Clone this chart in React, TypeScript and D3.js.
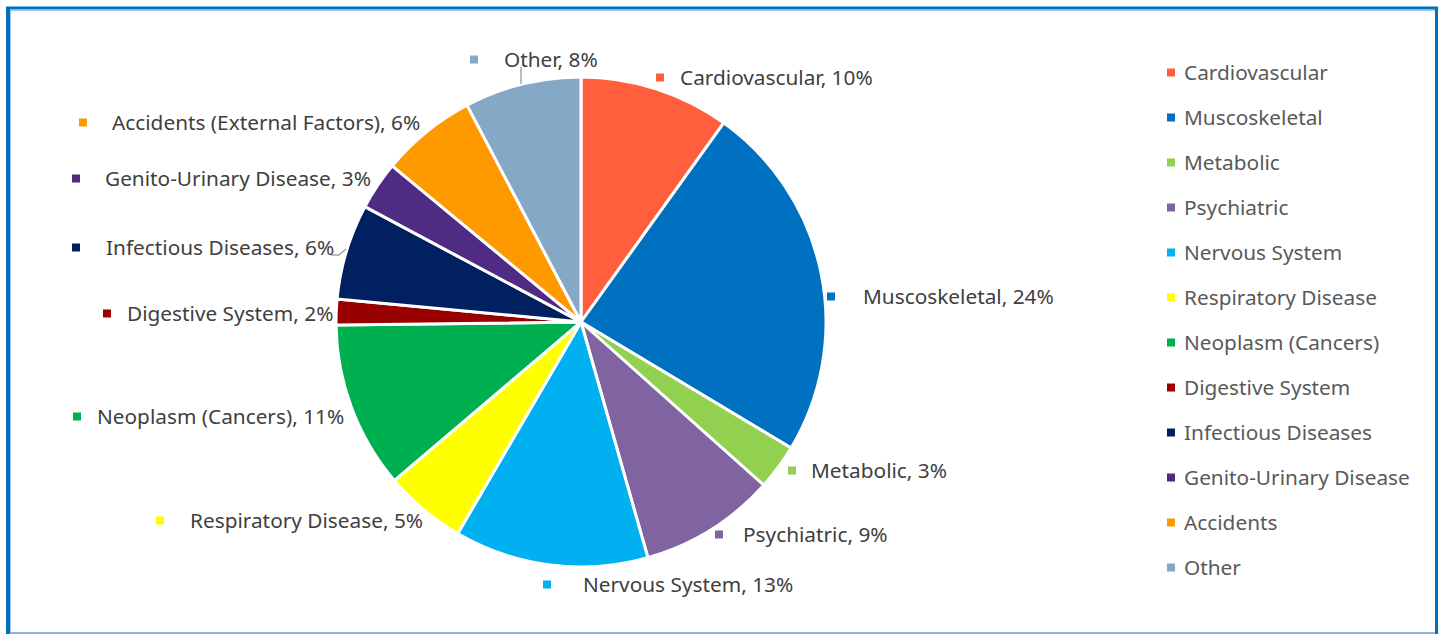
import React, { useEffect, useRef } from "react";
import * as d3 from "d3";

const categories = [
  "Cardiovascular",
  "Muscoskeletal",
  "Metabolic",
  "Psychiatric",
  "Nervous System",
  "Respiratory Disease",
  "Neoplasm (Cancers)",
  "Digestive System",
  "Infectious Diseases",
  "Genito-Urinary Disease",
  "Accidents (External Factors)",
  "Other",
];
const legendNames = [
  "Cardiovascular",
  "Muscoskeletal",
  "Metabolic",
  "Psychiatric",
  "Nervous System",
  "Respiratory Disease",
  "Neoplasm (Cancers)",
  "Digestive System",
  "Infectious Diseases",
  "Genito-Urinary Disease",
  "Accidents",
  "Other",
];
const shares = [9.9, 23.7, 3.0, 9.0, 12.8, 5.4, 11.0, 1.7, 6.3, 3.2, 6.3, 7.7];
const colors = [
  "#FF5F3C", "#0070C0", "#92D050", "#8064A2", "#00B0F0", "#FFFF00",
  "#00B050", "#990000", "#002060", "#4F2B84", "#FF9900", "#86A8C7",
];

// data label placement (marker left x, text left x, centre y)
const labelPos: [number, number, number][] = [
  [656, 680, 78],
  [827, 863, 297],
  [788, 811, 471],
  [715, 743, 535],
  [543, 583, 585],
  [156, 190, 521],
  [73, 97, 417],
  [103, 127, 314],
  [72, 106, 248],
  [72, 105, 179],
  [79, 112, 123],
  [470, 504, 60],
];

const W = 1444;
const H = 634;
const FONT = "'Noto Sans', 'Open Sans', sans-serif";
const FS = 20.8;

export default function App() {
  const ref = useRef<SVGSVGElement>(null);

  useEffect(() => {
    const svg = d3.select(ref.current);
    svg.selectAll("*").remove();

    const cx = 581, cy = 322, r = 245;

    // frame
    svg.append("rect").attr("x", 0).attr("y", 0).attr("width", W).attr("height", H).attr("fill", "#fff");
    svg.append("line").attr("x1", 8).attr("x2", 8).attr("y1", 7).attr("y2", 634)
      .style("stroke", "#0070C0").style("stroke-width", 4);
    svg.append("line").attr("x1", 6).attr("x2", 1438).attr("y1", 8).attr("y2", 8)
      .style("stroke", "#0070C0").style("stroke-width", 3);
    svg.append("line").attr("x1", 1436.5).attr("x2", 1436.5).attr("y1", 7).attr("y2", 634)
      .style("stroke", "#0070C0").style("stroke-width", 3);
    svg.append("line").attr("x1", 10).attr("x2", 1435).attr("y1", 633).attr("y2", 633)
      .style("stroke", "#5B9BD5").style("stroke-width", 1.5);
    svg.append("line").attr("x1", 10.5).attr("x2", 10.5).attr("y1", 10).attr("y2", 632)
      .style("stroke", "#9DC3E6").style("stroke-width", 1);
    svg.append("line").attr("x1", 10).attr("x2", 1435).attr("y1", 10.5).attr("y2", 10.5)
      .style("stroke", "#9DC3E6").style("stroke-width", 1);

    const pie = d3.pie<number>().sort(null).value((d) => d);
    const arcs = pie(shares);
    const arc = d3.arc<d3.PieArcDatum<number>>().innerRadius(0).outerRadius(r);

    const g = svg.append("g").attr("transform", `translate(${cx},${cy})`);
    g.selectAll("path")
      .data(arcs)
      .enter()
      .append("path")
      .attr("d", arc)
      .attr("fill", (_d, i) => colors[i])
      .style("stroke", "#fff")
      .style("stroke-width", 3)
      .style("stroke-linejoin", "round");

    // leader lines
    svg.append("path").attr("d", "M521,67 L521,84")
      .attr("fill", "none").style("stroke", "#A6A6A6").style("stroke-width", 1.5);
    svg.append("path").attr("d", "M331,255 L339,255 L346,249")
      .attr("fill", "none").style("stroke", "#A6A6A6").style("stroke-width", 1.5);

    // data labels
    categories.forEach((c, i) => {
      const [mx, tx, y] = labelPos[i];
      svg.append("rect").attr("x", mx).attr("y", y - 4.5).attr("width", 8).attr("height", 8)
        .attr("fill", colors[i]);
      svg.append("text").attr("x", tx).attr("y", y).attr("dy", "0.35em")
        .attr("font-family", FONT).attr("font-size", FS).attr("fill", "#404040")
        .text(`${c}, ${Math.round(shares[i])}%`);
    });

    // legend
    const ly = d3.scalePoint<string>().domain(legendNames).range([73, 568]);
    const lg = svg.append("g");
    legendNames.forEach((n, i) => {
      const y = ly(n) as number;
      lg.append("rect").attr("x", 1167).attr("y", y - 4.5).attr("width", 8).attr("height", 8)
        .attr("fill", colors[i]);
      lg.append("text").attr("x", 1184).attr("y", y).attr("dy", "0.35em")
        .attr("font-family", FONT).attr("font-size", FS).attr("fill", "#595959")
        .text(n);
    });
  }, []);

  return (
    <svg
      ref={ref}
      width={W}
      height={H}
      style={{ position: "absolute", left: 0, top: 0, display: "block" }}
    />
  );
}
